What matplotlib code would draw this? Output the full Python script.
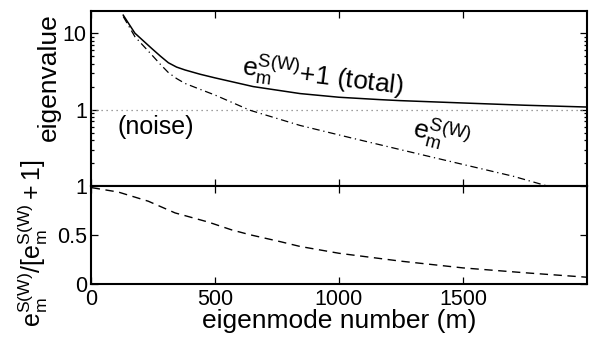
import matplotlib
matplotlib.use("Agg")
import matplotlib.pyplot as plt
from matplotlib.ticker import LogLocator, NullFormatter

plt.rcParams['font.family'] = ['Liberation Sans', 'DejaVu Sans']
plt.rcParams['mathtext.fontset'] = 'custom'
plt.rcParams['mathtext.rm'] = 'Liberation Sans'
plt.rcParams['mathtext.it'] = 'Liberation Sans'

# ---- data ----
m_total = [130, 177, 245, 280, 312, 345, 379, 440, 500, 654, 843, 1000, 1165, 1246, 1500, 1750, 1999]
total = [17.2, 10.0, 6.3, 5.0, 4.1, 3.6, 3.3, 2.9, 2.6, 2.0, 1.62, 1.45, 1.35, 1.31, 1.22, 1.14, 1.08]

m_e = [130, 177, 245, 280, 312, 345, 379, 440, 500, 641, 843, 1044, 1246, 1434, 1703, 1840]
e_vals = [16.5, 9.0, 5.2, 3.9, 3.05, 2.55, 2.2, 1.84, 1.55, 0.98, 0.62, 0.43, 0.30, 0.215, 0.134, 0.1]

m_ratio = [3, 110, 231, 339, 473, 567, 641, 762, 843, 1000, 1246, 1500, 1750, 1996]
ratio = [0.983, 0.938, 0.844, 0.724, 0.63, 0.55, 0.50, 0.43, 0.38, 0.31, 0.23, 0.16, 0.11, 0.065]

noise_level = [1, 1]
noise_x = [0, 2000]

xticks = [0, 500, 1000, 1500]
top_yticks = [1, 10]
bot_yticks = [0, 0.5, 1]

W, H = 593, 341
fig = plt.figure(figsize=(W / 100, H / 100), dpi=100)

def box(l, t, r, b):
    return [l / W, 1 - b / H, (r - l) / W, (b - t) / H]

ax1 = fig.add_axes(box(91, 11, 587, 186))
ax2 = fig.add_axes(box(91, 186, 587, 283.5))

tick_fs = 15.5
lab_fs = 19

# top panel
ax1.plot(noise_x, noise_level, color='#808080', lw=0.9, ls=(0, (1, 3)))
ax1.plot(m_total, total, color='black', lw=1.1)
ax1.plot(m_e, e_vals, color='black', lw=0.9, ls=(0, (6, 3, 1, 3)))
ax1.set_yscale('log')
ax1.set_xlim(0, 2000)
ax1.set_ylim(0.1, 19.5)
ax1.set_yticks(top_yticks)
ax1.set_yticklabels(['1', '10'])
ax1.yaxis.set_minor_locator(LogLocator(base=10, subs=range(2, 10)))
ax1.yaxis.set_minor_formatter(NullFormatter())
ax1.set_xticks(xticks)
ax1.set_xticklabels([])

# bottom panel
ax2.plot(m_ratio, ratio, color='black', lw=1.0, ls=(0, (6, 4)))
ax2.set_xlim(0, 2000)
ax2.set_ylim(0, 1)
ax2.set_xticks(xticks)
ax2.set_xticklabels([str(t) for t in xticks])
ax2.set_yticks(bot_yticks)
ax2.set_yticklabels(['0', '0.5', '1'])

for ax in (ax1, ax2):
    for s in ax.spines.values():
        s.set_linewidth(1.5)
    ax.tick_params(which='both', direction='in', top=True, right=True,
                   labelsize=tick_fs, width=0.9, pad=3)
    ax.tick_params(which='major', length=5)
    ax.tick_params(which='minor', length=2.5)

ax2.tick_params(axis='x', pad=4)

# text
ax1.text(605, 2.82, r'$\mathrm{e}_\mathrm{m}^{\mathrm{S(W)}}$+1 (total)', fontsize=lab_fs,
         rotation=-7, rotation_mode='anchor', ha='left', va='baseline')
ax1.text(1290, 0.45, r'$\mathrm{e}_\mathrm{m}^{\mathrm{S(W)}}$', fontsize=lab_fs,
         rotation=-14, rotation_mode='anchor', ha='left', va='baseline')
ax1.text(105, 0.6, '(noise)', fontsize=lab_fs - 1, ha='left', va='center')

fig.text(49 / W, 1 - 77 / H, 'eigenvalue', fontsize=lab_fs, rotation=90,
         ha='center', va='center')
fig.text(33 / W, 1 - 243 / H,
         r'$\mathrm{e}_\mathrm{m}^{\mathrm{S(W)}}/[\mathrm{e}_\mathrm{m}^{\mathrm{S(W)}}+1]$',
         fontsize=lab_fs - 1, rotation=90, ha='center', va='center')
fig.text(339 / W, 1 - 321 / H, 'eigenmode number (m)', fontsize=lab_fs,
         ha='center', va='center')

fig.savefig('out.png', dpi=100)
